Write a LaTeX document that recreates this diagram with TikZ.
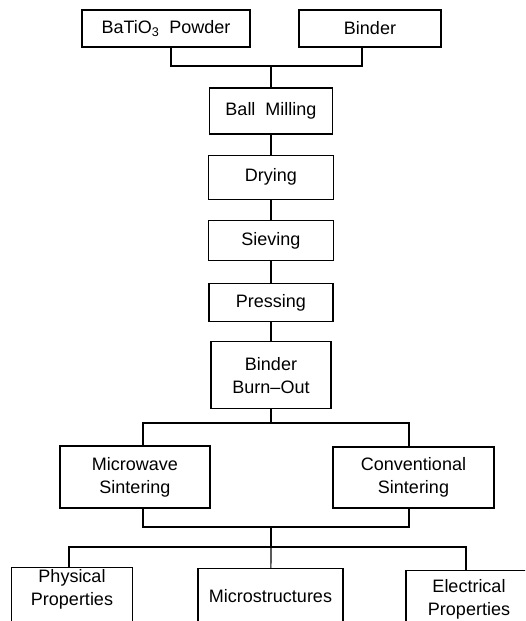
\documentclass[tikz,border=0pt]{standalone}
\usepackage{fontspec}
\setmainfont{Liberation Sans}
\usetikzlibrary{positioning}

\begin{document}
\begin{tikzpicture}[
    x=1pt, y=-1pt,
    node distance=20pt,
    every node/.style={font=\fontsize{18}{23}\selectfont},
    stepbox/.style={draw, line width=1.2pt, align=center, inner sep=0pt, minimum width=#1},
    leaf/.style={draw, line width=1.2pt, align=center, anchor=north, inner xsep=0pt, text depth=60pt, minimum width=#1},
    link/.style={line width=1.2pt},
]
    \useasboundingbox (0,0) rectangle (525,621);
    \clip (0,0) rectangle (525,621);

    % Starting materials
    \node[stepbox=168pt, minimum height=37pt] (powder) at (166,28.5) {BaTiO\textsubscript{3}\ \ Powder};
    \node[stepbox=142pt, minimum height=37pt] (binder) at (370,28.5) {Binder};

    % Processing chain
    \node[stepbox=123pt, minimum height=46pt] (ball) at (271,111) {Ball\ \ Milling};
    \node[stepbox=125pt, minimum height=44pt, below=20pt of ball] (drying) {Drying};
    \node[stepbox=125pt, minimum height=40pt, below=20pt of drying] (sieving) {Sieving};
    \node[stepbox=124pt, minimum height=38pt, below=22pt of sieving] (pressing) {Pressing};
    \node[stepbox=120pt, minimum height=67pt, below=19pt of pressing] (burnout) {Binder\\Burn--Out};

    % Sintering routes
    \node[stepbox=150pt, minimum height=62pt] (mw) at (135,477) {Microwave\\Sintering};
    \node[stepbox=161pt, minimum height=61pt] (conv) at (413.5,477.5) {Conventional\\Sintering};

    % Characterisation
    \node[leaf=121pt, inner ysep=2pt] (phys) at (72,567) {Physical\\Properties};
    \node[leaf=145pt, inner ysep=21pt] (micro) at (270.5,568) {Microstructures};
    \node[leaf=126pt, inner ysep=9pt] (elec) at (469,570) {Electrical\\Properties};

    % Connectors
    \coordinate (j1) at (271,66);
    \draw[link] ([xshift=5pt]powder.south) |- (j1) -| ([xshift=-8pt]binder.south);
    \draw[link] (j1) -- (ball);
    \draw[link] (ball) -- (drying);
    \draw[link] (drying) -- (sieving);
    \draw[link] (sieving) -- (pressing);
    \draw[link] (pressing) -- (burnout);

    \coordinate (j2) at (271,423);
    \draw[link] (burnout) -- (j2);
    \draw[link] ([xshift=8pt]mw.north) |- (j2) -| ([xshift=-4.5pt]conv.north);

    \coordinate (j3) at (271,527);
    \coordinate (j4) at (271,547);
    \draw[link] ([xshift=8pt]mw.south) |- (j3) -| ([xshift=-4.5pt]conv.south);
    \draw[link] (j3) -- (j4);
    \draw[link] ([xshift=-3pt]phys.north) |- (j4) -| ([xshift=-3pt]elec.north);
    \draw[link] (j4) -- (micro);
\end{tikzpicture}
\end{document}
